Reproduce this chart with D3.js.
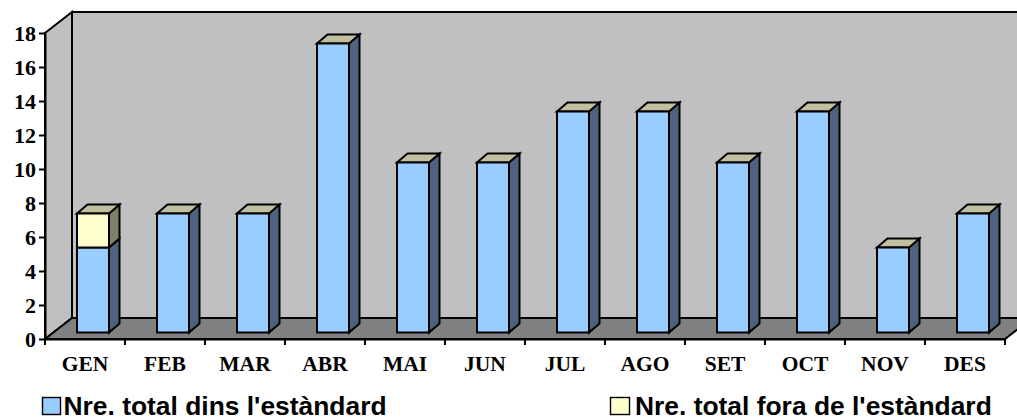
<!DOCTYPE html>
<html><head><meta charset="utf-8">
<script src="https://cdn.jsdelivr.net/npm/d3@7"></script>
<style>html,body{margin:0;padding:0;background:#fff;overflow:hidden}svg{display:block}</style>
</head><body><svg id="c" width="1017" height="417"></svg>
<script>
const months = ["GEN","FEB","MAR","ABR","MAI","JUN","JUL","AGO","SET","OCT","NOV","DES"];
const dins = [5,7,7,17,10,10,13,13,10,13,5,7];
const fora = [2,0,0,0,0,0,0,0,0,0,0,0];
const yTicks = [0,2,4,6,8,10,12,14,16,18];
const seriesNames = ["Nre. total dins l'estàndard","Nre. total fora de l'estàndard"];

const svg = d3.select("#c");
const x = d3.scaleBand().domain(months).range([45,1005]).paddingInner(.6).paddingOuter(.3);
const y = d3.scaleLinear().domain([0,18]).range([339,33]);
const dx = 27, dy = -21;               // depth of the chart box
const barDx = 10.5, barDy = -9;        // depth of one bar
const offX = 8, offY = -6.5;           // bar position within the floor
const L = x.range()[0], R = x.range()[1], B = y(0), T = y(18);
const black = "#000";
const SW = 2;

function poly(pts, fill, sw=SW){
  svg.append("polygon").attr("points", pts.map(p=>p.join(",")).join(" "))
    .attr("fill", fill).attr("stroke", black).attr("stroke-width", sw).attr("stroke-linejoin","miter");
}
// walls and floor
poly([[L,T],[L+dx,T+dy],[L+dx,B+dy],[L,B]], "#c0c0c0");
poly([[L+dx,T+dy],[R+dx,T+dy],[R+dx,B+dy],[L+dx,B+dy]], "#c0c0c0");
poly([[L,B],[L+dx,B+dy],[R+dx,B+dy],[R,B]], "#808080");

// axes
const gy = svg.append("g").attr("transform",`translate(${L},0)`)
  .call(d3.axisLeft(y).tickValues(yTicks).tickSize(6).tickPadding(3).tickSizeOuter(0));
gy.select(".domain").attr("stroke",black).attr("stroke-width",SW);
gy.selectAll("line").attr("stroke",black).attr("stroke-width",SW);
gy.selectAll("text").attr("font-family","'Liberation Serif'").attr("font-weight","bold").attr("font-size",22).attr("fill",black);

const gx = svg.append("g").attr("transform",`translate(0,${B})`)
  .call(d3.axisBottom(x).tickSize(0).tickPadding(17));
gx.select(".domain").attr("stroke",black).attr("stroke-width",SW);
gx.selectAll("text").attr("font-family","'Liberation Serif'").attr("font-weight","bold").attr("font-size",21.5).attr("fill",black);
gx.selectAll(".tick line").remove();
svg.append("g").selectAll("line").data(d3.range(months.length+1)).join("line")
  .attr("x1",i=>L+i*x.step()).attr("x2",i=>L+i*x.step())
  .attr("y1",B).attr("y2",B+6).attr("stroke",black).attr("stroke-width",SW);

// bars
function box(x0, x1, y0, y1, front, side, top){
  poly([[x1,y1],[x1+barDx,y1+barDy],[x1+barDx,y0+barDy],[x1,y0]], side);
  if (top) poly([[x0,y1],[x0+barDx,y1+barDy],[x1+barDx,y1+barDy],[x1,y1]], top);
  poly([[x0,y1],[x1,y1],[x1,y0],[x0,y0]], front);
}
months.forEach((m,i)=>{
  const x0 = x(m)+offX, x1 = x0+x.bandwidth();
  const a = dins[i], b = fora[i];
  box(x0,x1,y(0)+offY,y(a)+offY,"#99ccff","#4d6480", b? null : "#c0c0a0");
  if (b) box(x0,x1,y(a)+offY,y(a+b)+offY,"#ffffcc","#808066","#c0c0a0");
});

// legend
const legendFills = ["#99ccff","#ffffcc"];
const legendX = [42,610];
const legendW = [18,19];
const legendTextX = [63.5,635];
seriesNames.forEach((n,i)=>{
  svg.append("rect").attr("x",legendX[i]+.5).attr("y",397.5).attr("width",legendW[i]).attr("height",17)
    .attr("fill",legendFills[i]).attr("stroke",black).attr("stroke-width",1.4);
  svg.append("text").attr("x",legendTextX[i]).attr("y",415).text(n)
    .attr("font-family","'Liberation Sans'").attr("font-weight","bold").attr("font-size",26.4).attr("fill",black);
});
</script></body></html>
